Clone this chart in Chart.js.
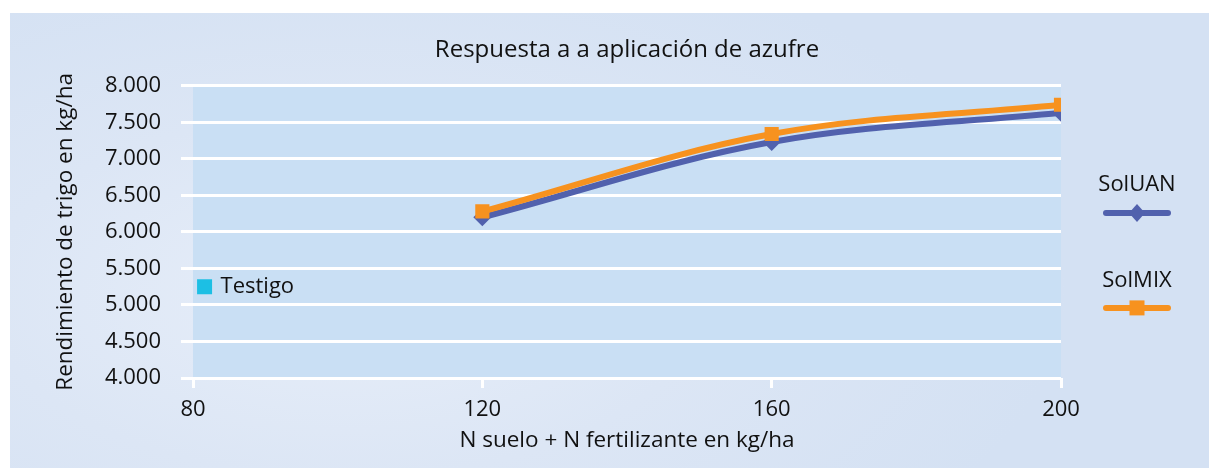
<!DOCTYPE html>
<html>
<head>
<meta charset="utf-8">
<script src="https://cdn.jsdelivr.net/npm/chart.js@4/dist/chart.umd.min.js"></script>
<style>
html,body{margin:0;padding:0;background:#fff;}
#panel{position:absolute;left:10px;top:13px;width:1199px;height:455px;
  background:radial-gradient(ellipse 60% 80% at 28% 62%,#e7eef9 0%,#dce6f5 50%,#d4e1f3 100%);}
#wrap{position:absolute;left:0;top:0;width:1209px;height:468px;}
</style>
</head>
<body>
<div id="panel"></div>
<div id="wrap"><canvas id="grafico" width="1209" height="468"></canvas></div>
<script>
// --- datos ---
var dosisN=[120,160,200];
var solUAN=[6200,7230,7630];
var solMIX=[6280,7340,7740];
var testigoX=[81.6];
var testigoY=[5250];
var ticksX=[80,120,160,200];

var fuente='"Open Sans", "Noto Sans", sans-serif';

function puntos(xs,ys){return xs.map(function(x,i){return {x:x,y:ys[i]};});}
function miles(v){return String(v).replace(/\B(?=(\d{3})+(?!\d))/g,'.');}

// fondo del area de trazado
var fondoPlot={
  id:'fondoPlot',
  beforeDraw:function(c){
    var a=c.chartArea,ctx=c.ctx;
    ctx.save();ctx.fillStyle='#c9dff4';
    ctx.fillRect(a.left,a.top,a.right-a.left,a.bottom-a.top);
    ctx.restore();
  }
};

// etiqueta Testigo junto a su punto + leyenda a la derecha
var etiquetas={
  id:'etiquetas',
  afterDraw:function(c){
    var ctx=c.ctx,a=c.chartArea;
    ctx.save();
    ctx.fillStyle='#111';ctx.textBaseline='middle';
    ctx.font='22px '+fuente;
    var pt=c.getDatasetMeta(2).data[0];
    if(pt){ctx.textAlign='left';ctx.fillText(c.data.datasets[2].label,pt.x+16,pt.y);}
    // leyenda
    var cx=a.right+76;
    var items=[{ds:0,ty:-47,ly:-19},{ds:1,ty:49,ly:76}];
    var mid=(a.top+a.bottom)/2;
    items.forEach(function(it){
      var d=c.data.datasets[it.ds];
      ctx.font='22px '+fuente;ctx.textAlign='center';ctx.fillStyle='#111';
      ctx.fillText(d.label,cx,mid+it.ty);
      var ly=mid+it.ly;
      ctx.strokeStyle=d.borderColor;ctx.lineWidth=6;ctx.lineCap='round';
      ctx.beginPath();ctx.moveTo(cx-31,ly);ctx.lineTo(cx+31,ly);ctx.stroke();
      ctx.fillStyle=d.backgroundColor;
      if(d.pointStyle==='rectRot'){
        ctx.beginPath();ctx.moveTo(cx,ly-9);ctx.lineTo(cx+8,ly);ctx.lineTo(cx,ly+9);ctx.lineTo(cx-8,ly);ctx.closePath();ctx.fill();
      }else{
        ctx.fillRect(cx-7.5,ly-7.5,15,15);
      }
    });
    ctx.restore();
  }
};

new Chart(document.getElementById('grafico'),{
  type:'line',
  data:{
    datasets:[
      {label:'SolUAN',data:puntos(dosisN,solUAN),borderColor:'#5161ad',backgroundColor:'#5161ad',
       borderWidth:6,tension:0.35,pointStyle:'rectRot',pointRadius:9,pointBorderWidth:0,order:1},
      {label:'SolMIX',data:puntos(dosisN,solMIX),borderColor:'#f7921f',backgroundColor:'#f7921f',
       borderWidth:6,tension:0.35,pointStyle:'rect',pointRadius:10,pointBorderWidth:0,order:0},
      {label:'Testigo',data:puntos(testigoX,testigoY),borderColor:'#1cbfe4',backgroundColor:'#1cbfe4',
       showLine:false,pointStyle:'rect',pointRadius:10.6,pointBorderWidth:0,order:2}
    ]
  },
  options:{
    responsive:false,animation:false,
    layout:{padding:{left:48,right:148,top:13,bottom:10}},
    plugins:{
      legend:{display:false},tooltip:{enabled:false},
      title:{display:true,text:'Respuesta a a aplicación de azufre',fullSize:false,color:'#111',
        font:{family:fuente,size:24,weight:'normal'},padding:{top:23,bottom:21}}
    },
    scales:{
      x:{type:'linear',min:80,max:200,
        afterBuildTicks:function(s){s.ticks=ticksX.map(function(v){return {value:v};});},
        afterFit:function(s){s.height=80;},
        grid:{drawOnChartArea:false,drawTicks:true,tickLength:10,color:'#ffffff',lineWidth:3},
        border:{display:false},
        ticks:{color:'#111',padding:9,font:{family:fuente,size:22}},
        title:{display:true,text:'N suelo + N fertilizante en kg/ha',color:'#111',
          font:{family:fuente,size:22.5},padding:{top:4,bottom:4}}
      },
      y:{min:4000,max:8000,
        afterFit:function(s){s.width=145;},
        grid:{color:'#ffffff',lineWidth:3,tickLength:12},
        border:{display:false},
        ticks:{stepSize:500,color:'#111',padding:20,font:{family:fuente,size:22},
          callback:function(v){return miles(v);}},
        title:{display:true,text:'Rendimiento de trigo en kg/ha',color:'#111',
          font:{family:fuente,size:22.5},padding:{top:4,bottom:4}}
      }
    }
  },
  plugins:[fondoPlot,etiquetas]
});
</script>
</body>
</html>
